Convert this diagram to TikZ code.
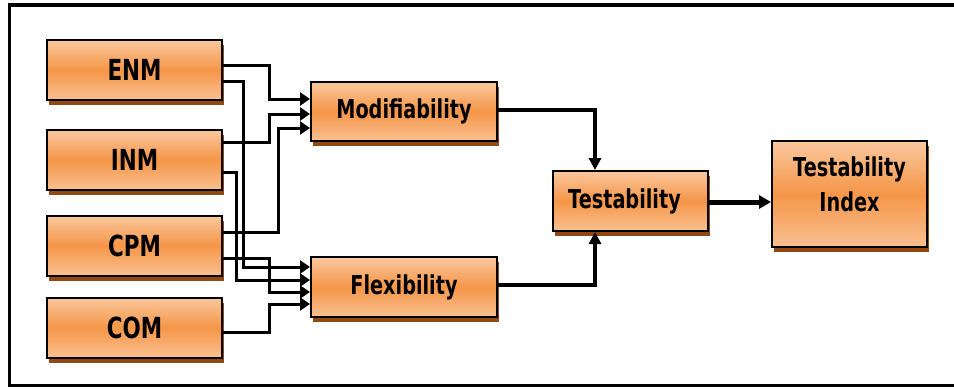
\documentclass[tikz,border=0pt]{standalone}
\usepackage{fontspec}
\setmainfont{DejaVu Sans}[FakeStretch=0.74]
\usetikzlibrary{arrows.meta,shadows,calc}
\definecolor{boxtop}{RGB}{250,200,158}
\definecolor{boxmid}{RGB}{245,150,72}
\definecolor{boxbot}{RGB}{250,192,145}
\definecolor{shadowc}{RGB}{145,72,18}
\tikzset{
  blk/.style={draw=black, line width=2pt, inner sep=0pt,
    top color=boxtop, bottom color=boxbot, middle color=boxmid,
    general shadow={fill=shadowc, shadow xshift=2pt, shadow yshift=-5pt},
    font=\bfseries\fontsize{26}{35}\selectfont},
  src/.style={blk, minimum width=175pt, minimum height=60pt,
    font=\bfseries\fontsize{29}{35}\selectfont},
  conn/.style={line width=3pt, -{Triangle[length=10pt,width=13pt]}},
  conn2/.style={line width=3.5pt, -{Triangle[length=12pt,width=12pt]}},
  conn3/.style={line width=5pt, -{Triangle[length=12pt,width=13pt]}},
}
\begin{document}
\begin{tikzpicture}[x=1pt,y=-1pt]
\useasboundingbox (0,0) rectangle (954,389);
\draw[line width=3.5pt] (954,5) -- (9.5,5) -- (9.5,385.5) -- (954,385.5);

\node[src] (enm) at (134.5,70) {ENM};
\node[src] (inm) at (134.5,160) {INM};
\node[src] (cpm) at (134.5,245.5) {CPM};
\node[src] (com) at (134.5,327.5) {COM};
\node[blk, minimum width=186pt, minimum height=59pt] (mod) at (404,111.5) {Modifiability};
\node[blk, minimum width=186pt, minimum height=60pt] (flex) at (404,287) {Flexibility};
\node[blk, minimum width=155pt, minimum height=60pt] (test) at (630.5,201) {\hspace*{-12pt}Testability};
\node[blk, minimum width=155pt, minimum height=106pt] (idx) at (849.5,194)
  {\raisebox{7pt}[\height][\depth]{\begin{tabular}{@{}c@{}}Testability\\Index\end{tabular}}};

% to Modifiability
\draw[conn] ([yshift=5pt]enm.east) -- ++(46,0) |- ([yshift=12.5pt]mod.west);
\draw[conn] ([yshift=18pt]inm.east) -- ++(46,0) |- ([yshift=-2.5pt]mod.west);
\draw[conn] ([yshift=13.5pt]cpm.east) -- ++(55,0) |- ([yshift=-16.5pt]mod.west);
% to Flexibility
\draw[conn] ([yshift=-11pt]enm.east) -- ++(20,0) |- ([yshift=20pt]flex.west);
\draw[conn] ([yshift=-12pt]inm.east) -- ++(13,0) |- ([yshift=7pt]flex.west);
\draw[conn] ([yshift=-12.5pt]cpm.east) -- ++(46,0) |- ([yshift=-5pt]flex.west);
\draw[conn] ([yshift=-4.5pt]com.east) -- ++(46,0) |- ([yshift=-17pt]flex.west);
% to Testability
\draw[conn2] ([yshift=1.5pt]mod.east) -| ([xshift=-35.5pt]test.north);
\draw[conn2] ([yshift=2pt]flex.east) -| ([xshift=-35.5pt]test.south);
\draw[conn3] ([yshift=-1pt]test.east) -- ([yshift=-1pt]test.east -| idx.west);
\end{tikzpicture}
\end{document}
